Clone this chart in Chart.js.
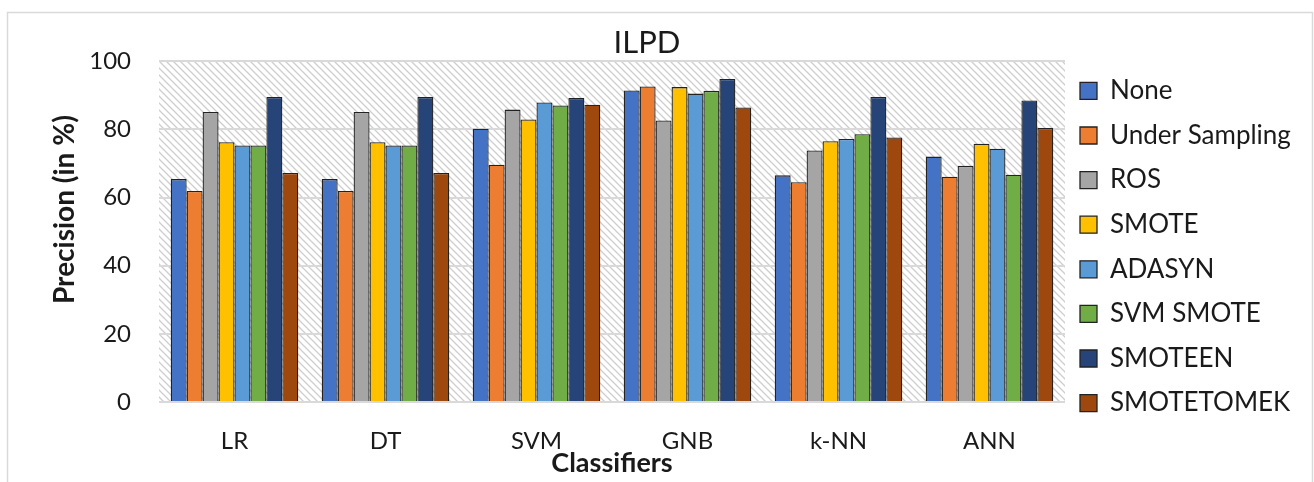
<!DOCTYPE html>
<html>
<head>
<meta charset="utf-8">
<script src="https://cdn.jsdelivr.net/npm/chart.js@4.4.1/dist/chart.umd.min.js"></script>
<style>
  html, body { margin: 0; padding: 0; background: #ffffff; }
  canvas { display: block; }
</style>
</head>
<body>
<canvas id="chart" width="1314" height="482"></canvas>
<script>
// Precision (%) of each classifier on the ILPD dataset, per resampling method
const classifiers = ['LR', 'DT', 'SVM', 'GNB', 'k-NN', 'ANN'];
const methodNames = ['None', 'Under Sampling', 'ROS', 'SMOTE', 'ADASYN', 'SVM SMOTE', 'SMOTEEN', 'SMOTETOMEK'];

const none          = [65.4, 65.4, 80.2, 91.4, 66.5, 72.0];
const underSampling = [61.9, 61.9, 69.6, 92.6, 64.5, 66.1];
const ros           = [85.1, 85.1, 85.8, 82.6, 73.8, 69.3];
const smote         = [76.2, 76.2, 82.9, 92.4, 76.5, 75.8];
const adasyn        = [75.3, 75.3, 87.9, 90.5, 77.2, 74.3];
const svmSmote      = [75.3, 75.3, 87.0, 91.3, 78.6, 66.7];
const smoteen       = [89.5, 89.5, 89.2, 94.8, 89.5, 88.5];
const smoteTomek    = [67.2, 67.2, 87.2, 86.4, 77.6, 80.4];

const yTicks = [0, 20, 40, 60, 80, 100];

const seriesValues = [none, underSampling, ros, smote, adasyn, svmSmote, smoteen, smoteTomek];
const seriesColors = ['#4472C4', '#ED7D31', '#A5A5A5', '#FFC000', '#5B9BD5', '#70AD47', '#264478', '#9E480E'];

const FONT = 'Lato, "Open Sans", sans-serif';
const TEXT = '#1a1a1a';
const GRID = '#d9d9d9';

// Fixed layout of the plot frame
const Y_AXIS_W = 159;
const X_AXIS_H = 80;
const LEGEND_W = 249;
const LEGEND_BOX_X = 1080;
const LEGEND_SHIFT_Y = 4;
const TITLE_SHIFT_X = -10;
const Y_TITLE_SHIFT = -22;

// Diagonal hatch used as the plot-area background
function makeHatch(ctx) {
  const s = 7;
  const c = document.createElement('canvas');
  c.width = s; c.height = s;
  const g = c.getContext('2d');
  g.strokeStyle = 'rgba(185,185,185,0.7)';
  g.lineWidth = 1.3;
  g.beginPath();
  g.moveTo(-1, -1); g.lineTo(s + 1, s + 1);
  g.moveTo(-1, s - 1); g.lineTo(1, s + 1);
  g.moveTo(s - 1, -1); g.lineTo(s + 1, 1);
  g.stroke();
  return ctx.createPattern(c, 'repeat');
}

const frame = {
  id: 'frame',
  afterInit(chart) {
    const lg = chart.legend;
    const fit = lg.fit;
    lg.fit = function () { fit.call(this); this.width = LEGEND_W; };
  },
  afterLayout(chart) {
    const lg = chart.legend;
    const dx = LEGEND_BOX_X - (lg.left + lg.options.labels.padding);
    lg.left += dx; lg.right += dx;
    lg.top += LEGEND_SHIFT_Y; lg.bottom += LEGEND_SHIFT_Y;

    const tb = chart.titleBlock;
    tb.left += TITLE_SHIFT_X; tb.right += TITLE_SHIFT_X;

    const ys = chart.scales.y;
    if (!ys._titleShifted) {
      const drawTitle = ys.drawTitle;
      ys.drawTitle = function () {
        const t = this.top, b = this.bottom;
        this.top += Y_TITLE_SHIFT; this.bottom += Y_TITLE_SHIFT;
        drawTitle.call(this);
        this.top = t; this.bottom = b;
      };
      ys._titleShifted = true;
    }
  },
  beforeDraw(chart) {
    const { ctx, chartArea: a } = chart;
    ctx.save();
    ctx.fillStyle = '#ffffff';
    ctx.fillRect(0, 0, chart.width, chart.height);
    ctx.strokeStyle = '#d9d9d9';
    ctx.lineWidth = 1.5;
    ctx.strokeRect(7.5, 12.5, 1305, 500);
    ctx.fillStyle = makeHatch(ctx);
    ctx.fillRect(a.left, a.top, a.right - a.left, a.bottom - a.top);
    ctx.restore();
  }
};

Chart.defaults.font.family = FONT;
Chart.defaults.color = TEXT;

new Chart(document.getElementById('chart'), {
  type: 'bar',
  data: {
    labels: classifiers,
    datasets: methodNames.map((name, i) => ({
      label: name,
      data: seriesValues[i],
      backgroundColor: seriesColors[i],
      borderColor: '#222222',
      borderWidth: 1.3,
      categoryPercentage: 0.845,
      barPercentage: 1.0
    }))
  },
  options: {
    responsive: false,
    animation: false,
    devicePixelRatio: 1,
    layout: { padding: { top: 4, right: 0, bottom: 0, left: 0 } },
    plugins: {
      title: {
        display: true,
        text: 'ILPD',
        color: TEXT,
        font: { family: FONT, size: 31, weight: 'normal' },
        padding: { top: 20, bottom: 0 }
      },
      legend: {
        position: 'right',
        align: 'center',
        labels: {
          color: TEXT,
          font: { family: FONT, size: 26 },
          boxWidth: 17,
          boxHeight: 17,
          padding: 18.6
        }
      },
      tooltip: { enabled: false }
    },
    scales: {
      x: {
        grid: { display: false, drawTicks: false },
        border: { display: false },
        ticks: { color: TEXT, font: { family: FONT, size: 24 }, padding: 25 },
        title: {
          display: true,
          text: 'Classifiers',
          color: TEXT,
          font: { family: FONT, size: 27, weight: 'bold' },
          padding: { top: 0, bottom: 3 }
        },
        afterFit(scale) { scale.height = X_AXIS_H; }
      },
      y: {
        min: 0,
        max: 100,
        grid: { color: GRID, lineWidth: 2, drawTicks: false },
        border: { display: false },
        afterBuildTicks(scale) { scale.ticks = yTicks.map(v => ({ value: v })); },
        ticks: { color: TEXT, font: { family: FONT, size: 24 }, padding: 28 },
        title: {
          display: true,
          text: 'Precision (in %)',
          color: TEXT,
          font: { family: FONT, size: 28, weight: 'bold' },
          padding: { top: 48, bottom: 0 }
        },
        afterFit(scale) { scale.width = Y_AXIS_W; }
      }
    }
  },
  plugins: [frame]
});
</script>
</body>
</html>
